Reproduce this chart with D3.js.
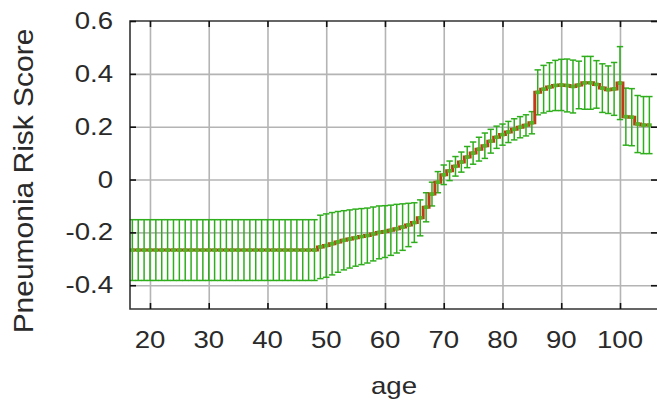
<!DOCTYPE html>
<html>
<head>
<meta charset="utf-8">
<script src="https://cdn.jsdelivr.net/npm/d3@7/dist/d3.min.js"></script>
<style>
  html, body { margin: 0; padding: 0; background: #fff; }
  svg { display: block; }
  text { font-family: "Liberation Sans", Arial, sans-serif; fill: #2a2a2a; }
</style>
</head>
<body>
<svg id="chart" width="657" height="401"></svg>
<script>
// Age in years, one bin per year
const ages = [17, 18, 19, 20, 21, 22, 23, 24, 25, 26, 27, 28, 29, 30, 31, 32, 33, 34, 35, 36,
  37, 38, 39, 40, 41, 42, 43, 44, 45, 46, 47, 48, 49, 50, 51, 52, 53, 54, 55, 56,
  57, 58, 59, 60, 61, 62, 63, 64, 65, 66, 67, 68, 69, 70, 71, 72, 73, 74, 75, 76,
  77, 78, 79, 80, 81, 82, 83, 84, 85, 86, 87, 88, 89, 90, 91, 92, 93, 94, 95, 96,
  97, 98, 99, 100, 101, 102, 103, 104, 105];

// Mean pneumonia risk score per age bin
const riskScore = [
  -0.267, -0.267, -0.267, -0.267, -0.267, -0.267, -0.267, -0.267, -0.267, -0.267,
  -0.267, -0.267, -0.267, -0.267, -0.267, -0.267, -0.267, -0.267, -0.267, -0.267,
  -0.267, -0.267, -0.267, -0.267, -0.267, -0.267, -0.267, -0.267, -0.267, -0.267,
  -0.267, -0.267, -0.255, -0.250, -0.243, -0.236, -0.230, -0.225, -0.220, -0.216,
  -0.212, -0.206, -0.200, -0.197, -0.192, -0.186, -0.180, -0.172, -0.163, -0.145,
  -0.105, -0.055, -0.010, 0.018, 0.033, 0.050, 0.066, 0.085, 0.100, 0.115,
  0.128, 0.145, 0.160, 0.170, 0.180, 0.190, 0.198, 0.205, 0.215, 0.330,
  0.342, 0.350, 0.356, 0.358, 0.356, 0.352, 0.358, 0.366, 0.366, 0.360,
  0.346, 0.340, 0.343, 0.365, 0.238, 0.236, 0.210, 0.206, 0.206];

// Half-width of the error bar per age bin
const errHalf = [
  0.115, 0.115, 0.115, 0.115, 0.115, 0.115, 0.115, 0.115, 0.115, 0.115,
  0.115, 0.115, 0.115, 0.115, 0.115, 0.115, 0.115, 0.115, 0.115, 0.115,
  0.115, 0.115, 0.115, 0.115, 0.115, 0.115, 0.115, 0.115, 0.115, 0.115,
  0.115, 0.115, 0.120, 0.120, 0.118, 0.115, 0.112, 0.110, 0.108, 0.106,
  0.104, 0.102, 0.100, 0.098, 0.095, 0.092, 0.088, 0.082, 0.075, 0.068,
  0.055, 0.045, 0.040, 0.037, 0.037, 0.037, 0.038, 0.040, 0.042, 0.045,
  0.048, 0.045, 0.042, 0.040, 0.040, 0.040, 0.040, 0.040, 0.042, 0.085,
  0.090, 0.092, 0.095, 0.097, 0.100, 0.100, 0.090, 0.100, 0.100, 0.090,
  0.092, 0.090, 0.100, 0.138, 0.108, 0.108, 0.108, 0.108, 0.108];

const xTicks = [20, 30, 40, 50, 60, 70, 80, 90, 100];
const yTicks = [-0.4, -0.2, 0, 0.2, 0.4, 0.6];
const yTickLabels = ["-0.4", "-0.2", "0", "0.2", "0.4", "0.6"];

const data = ages.map((a, i) => ({ age: a, v: riskScore[i], e: errHalf[i] }));

const svg = d3.select("#chart");
const mLeft = 130, mRight = 657, mTop = 21, mBottom = 309;

const x = d3.scaleLinear().domain([16.6, 106.3]).range([mLeft, mRight]);
const y = d3.scaleLinear().domain([-0.49, 0.6]).range([mBottom, mTop]);

const plotW = mRight - mLeft, plotH = mBottom - mTop;

svg.append("defs").append("clipPath").attr("id", "plotClip")
  .append("rect").attr("x", mLeft).attr("y", mTop).attr("width", plotW).attr("height", plotH);

// Grid lines
const gridX = svg.append("g").attr("transform", `translate(0,${mBottom})`)
  .call(d3.axisBottom(x).tickValues(xTicks).tickSize(-plotH).tickFormat(""));
const gridY = svg.append("g").attr("transform", `translate(${mLeft},0)`)
  .call(d3.axisLeft(y).tickValues(yTicks.filter(t => t < 0.6)).tickSize(-plotW).tickFormat(""));
[gridX, gridY].forEach(g => {
  g.select(".domain").remove();
  g.selectAll(".tick line").attr("stroke", "#b4b4b4").attr("stroke-width", 1.6);
});

const plot = svg.append("g").attr("clip-path", "url(#plotClip)");

// Error bars
const green = "#2fae1c";
const cap = 3.2;
const bars = plot.append("g").attr("stroke", green).attr("stroke-width", 1.5).attr("fill", "none");
data.forEach(d => {
  const cx = x(d.age), y1 = y(d.v + d.e), y0 = y(d.v - d.e);
  bars.append("line").attr("x1", cx).attr("x2", cx).attr("y1", y1).attr("y2", y0);
  bars.append("line").attr("x1", cx - cap).attr("x2", cx + cap).attr("y1", y1).attr("y2", y1);
  bars.append("line").attr("x1", cx - cap).attr("x2", cx + cap).attr("y1", y0).attr("y2", y0);
});

// Step line of the mean score
const step = d3.line().x(d => x(d.age)).y(d => y(d.v)).curve(d3.curveStep);
plot.append("path").datum(data)
  .attr("d", step).attr("fill", "none")
  .attr("stroke", "#c4381a").attr("stroke-width", 3);

// Point markers on the mean
plot.append("g").selectAll("line").data(data).join("line")
  .attr("x1", d => x(d.age) - 2.4).attr("x2", d => x(d.age) + 2.4)
  .attr("y1", d => y(d.v)).attr("y2", d => y(d.v))
  .attr("stroke", "#52b526").attr("stroke-width", 3.6);

// Frame
svg.append("path")
  .attr("d", `M${mRight},${mTop}H${mLeft}V${mBottom}H${mRight}`)
  .attr("fill", "none").attr("stroke", "#333").attr("stroke-width", 1.6);

// Inward tick marks on all sides
const tk = 6;
const tickAxes = [
  svg.append("g").attr("transform", `translate(0,${mBottom})`).call(d3.axisBottom(x).tickValues(xTicks).tickSize(-tk).tickFormat("")),
  svg.append("g").attr("transform", `translate(0,${mTop})`).call(d3.axisTop(x).tickValues(xTicks).tickSize(-tk).tickFormat("")),
  svg.append("g").attr("transform", `translate(${mLeft},0)`).call(d3.axisLeft(y).tickValues(yTicks).tickSize(-tk).tickFormat("")),
  svg.append("g").attr("transform", `translate(${mRight},0)`).call(d3.axisRight(y).tickValues(yTicks).tickSize(-tk).tickFormat(""))
];
tickAxes.forEach(g => {
  g.select(".domain").remove();
  g.selectAll(".tick line").attr("stroke", "#111").attr("stroke-width", 1.6);
});

// Tick labels
const xs = 1.2;
svg.append("g").selectAll("text").data(xTicks).join("text")
  .attr("transform", d => `translate(${x(d)},348) scale(${xs},1)`)
  .attr("text-anchor", "middle").attr("font-size", 23)
  .text(d => d);

svg.append("g").selectAll("text").data(yTicks).join("text")
  .attr("transform", d => `translate(113,${y(d) + 8}) scale(${xs},1)`)
  .attr("text-anchor", "end").attr("font-size", 23)
  .text((d, i) => yTickLabels[i]);

// Axis titles
svg.append("text")
  .attr("transform", `translate(394,394) scale(${xs},1)`)
  .attr("text-anchor", "middle").attr("font-size", 23)
  .text("age");

svg.append("text")
  .attr("transform", "translate(33,181) rotate(-90) scale(1.11,1)")
  .attr("text-anchor", "middle").attr("font-size", 27)
  .text("Pneumonia Risk Score");
</script>
</body>
</html>
